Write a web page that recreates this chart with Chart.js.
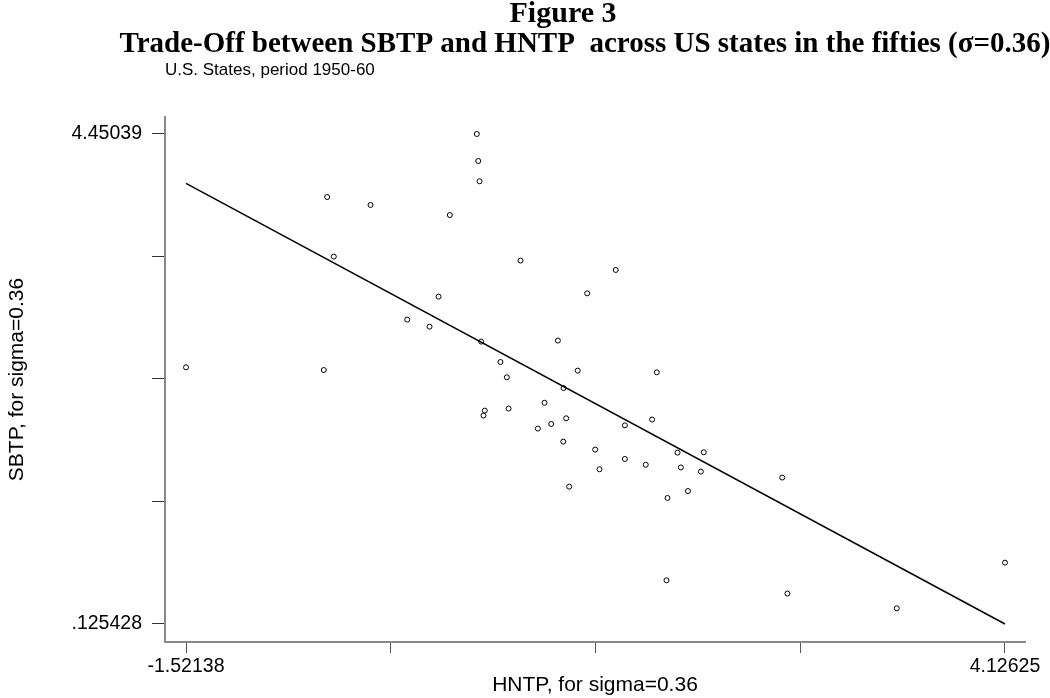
<!DOCTYPE html>
<html>
<head>
<meta charset="utf-8">
<title>Figure 3</title>
<script src="https://cdn.jsdelivr.net/npm/chart.js@4.4.0/dist/chart.umd.min.js"></script>
<style>
  html, body { margin: 0; padding: 0; background: #fff; }
  canvas { display: block; }
</style>
</head>
<body>
<canvas id="chart" width="1050" height="698"></canvas>
<script>
// HNTP (x) and SBTP (y) for each state
var hntp = [-1.52138, -0.571, -0.548, -0.502, -0.249, 0.004, 0.158, 0.220, 0.298, 0.484,
            0.494, 0.503, 0.514, 0.530, 0.539, 0.647, 0.691, 0.703, 0.785, 0.905,
            0.951, 0.997, 1.043, 1.080, 1.082, 1.100, 1.121, 1.180, 1.245, 1.300,
            1.330, 1.442, 1.505, 1.505, 1.649, 1.693, 1.725, 1.792, 1.799, 1.868,
            1.891, 1.940, 2.029, 2.049, 2.590, 2.626, 3.380, 4.12625];
var sbtp = [2.391, 2.367, 3.894, 3.368, 3.824, 2.812, 2.750, 3.015, 3.735, 4.45039,
            4.212, 4.033, 2.618, 1.965, 2.009, 2.438, 2.303, 2.027, 3.333, 1.850,
            2.078, 1.891, 2.627, 1.735, 2.208, 1.941, 1.338, 2.362, 3.044, 1.665,
            1.491, 3.250, 1.879, 1.582, 1.531, 1.930, 2.347, 0.511, 1.238, 1.638,
            1.507, 1.299, 1.471, 1.641, 1.418, 0.394, 0.264, 0.667];

// fitted line (end points)
var fitX = [-1.52138, 4.12625];
var fitY = [4.015, 0.125428];

// axis ticks, only the ends are labelled
var xTicks = [-1.52138, -0.1094725, 1.302435, 2.7143425, 4.12625];
var xTickLabels = ['-1.52138', '', '', '', '4.12625'];
var yTicks = [0.125428, 1.2066685, 2.287909, 3.3691495, 4.45039];
var yTickLabels = ['.125428', '', '', '', '4.45039'];

var points = hntp.map(function (x, i) { return { x: x, y: sbtp[i] }; });
var fitLine = fitX.map(function (x, i) { return { x: x, y: fitY[i] }; });

// titles above the plot
var headerPlugin = {
    id: 'header',
    afterDraw: function (chart) {
        var ctx = chart.ctx;
        ctx.save();
        ctx.fillStyle = '#000';
        ctx.textBaseline = 'alphabetic';
        ctx.textAlign = 'center';
        ctx.font = 'bold 30px "Liberation Serif", "Times New Roman", serif';
        ctx.fillText('Figure 3', 563, 22);
        ctx.font = 'bold 29px "Liberation Serif", "Times New Roman", serif';
        ctx.fillText('Trade-Off between SBTP and HNTP  across US states in the fifties (\u03c3=0.36)', 585, 52);
        ctx.textAlign = 'left';
        ctx.font = '17px "Liberation Sans", Arial, sans-serif';
        ctx.fillText('U.S. States, period 1950-60', 165, 75);
        ctx.restore();
    }
};

var tickFont = { family: '"Liberation Sans", Arial, sans-serif', size: 19.5 };
var titleFont = { family: '"Liberation Sans", Arial, sans-serif', size: 21 };

var ctx = document.getElementById('chart').getContext('2d');
new Chart(ctx, {
    type: 'scatter',
    data: {
        datasets: [{
            label: 'Fit',
            type: 'line',
            data: fitLine,
            borderColor: '#000',
            borderWidth: 1.5,
            pointRadius: 0,
            fill: false,
            tension: 0
        }, {
            label: 'States',
            data: points,
            pointStyle: 'circle',
            pointRadius: 2.5,
            borderWidth: 1,
            borderColor: '#000',
            backgroundColor: 'rgba(255,255,255,0)'
        }]
    },
    options: {
        responsive: false,
        animation: false,
        layout: { padding: { top: 117, right: 25, left: 0, bottom: 0 } },
        plugins: {
            legend: { display: false },
            tooltip: { enabled: false }
        },
        scales: {
            x: {
                type: 'linear',
                min: -1.6662,
                max: 4.2642,
                afterFit: function (scale) { scale.height = 56; },
                afterBuildTicks: function (scale) {
                    scale.ticks = xTicks.map(function (v) { return { value: v }; });
                },
                ticks: {
                    autoSkip: false,
                    maxRotation: 0,
                    padding: 2,
                    color: '#000',
                    font: tickFont,
                    callback: function (value, index) { return xTickLabels[index]; }
                },
                grid: {
                    display: true,
                    drawOnChartArea: false,
                    drawTicks: true,
                    tickLength: 11,
                    tickColor: '#555',
                    tickWidth: 1
                },
                border: { display: true, color: '#888', width: 2 },
                title: {
                    display: true,
                    text: 'HNTP, for sigma=0.36',
                    color: '#000',
                    font: titleFont,
                    padding: { top: 0, bottom: 0 }
                }
            },
            y: {
                type: 'linear',
                min: -0.0335,
                max: 4.6004,
                afterFit: function (scale) { scale.width = 165; },
                afterBuildTicks: function (scale) {
                    scale.ticks = yTicks.map(function (v) { return { value: v }; });
                },
                ticks: {
                    autoSkip: false,
                    padding: 10,
                    color: '#000',
                    font: tickFont,
                    callback: function (value, index) { return yTickLabels[index]; }
                },
                grid: {
                    display: true,
                    drawOnChartArea: false,
                    drawTicks: true,
                    tickLength: 13,
                    tickColor: '#333',
                    tickWidth: 1
                },
                border: { display: true, color: '#888', width: 2 },
                title: {
                    display: true,
                    text: 'SBTP, for sigma=0.36',
                    color: '#000',
                    font: titleFont,
                    padding: { top: 5, bottom: 0 }
                }
            }
        }
    },
    plugins: [headerPlugin]
});
</script>
</body>
</html>
